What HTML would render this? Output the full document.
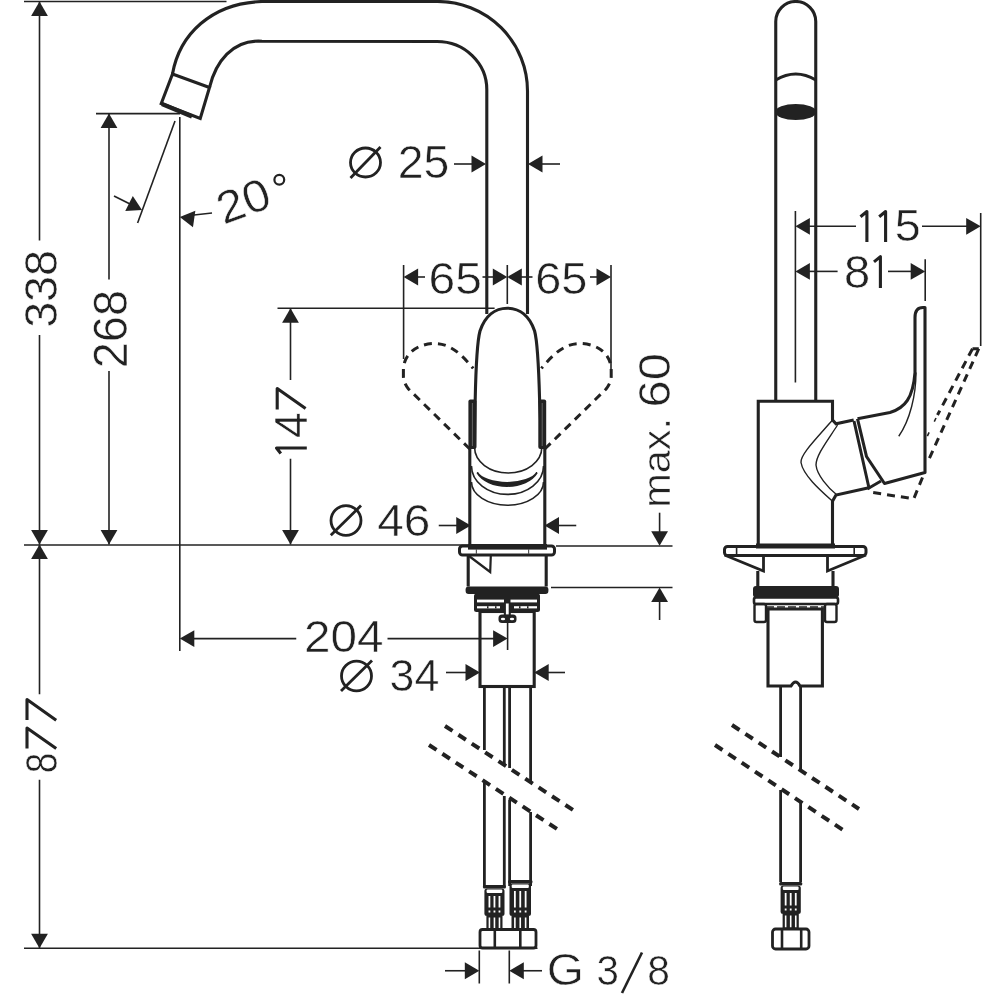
<!DOCTYPE html>
<html><head><meta charset="utf-8"><style>
html,body{margin:0;padding:0;background:#fff;width:1000px;height:1000px;overflow:hidden}
svg{display:block;will-change:transform}
text{font-family:"Liberation Sans",sans-serif}
</style></head><body>
<svg width="1000" height="1000" viewBox="0 0 1000 1000">
<line x1="24" y1="1.5" x2="226.5" y2="1.5" stroke="#222" stroke-width="1.6" />
<line x1="39.5" y1="1.5" x2="39.5" y2="240.5" stroke="#222" stroke-width="1.6" />
<line x1="39.5" y1="335" x2="39.5" y2="544.5" stroke="#222" stroke-width="1.6" />
<polygon points="39.50,1.50 47.90,16.00 31.10,16.00" fill="#222"/>
<polygon points="39.50,544.50 31.10,530.00 47.90,530.00" fill="#222"/>
<text transform="translate(57.70,326.00) rotate(-90) scale(0.9977,1) translate(-1.86,-0.46)" font-size="46.83" fill="#222" stroke="#fff" stroke-width="0.55">338</text>
<line x1="24" y1="545" x2="470" y2="545" stroke="#222" stroke-width="1.6" />
<line x1="556" y1="546" x2="672.5" y2="546" stroke="#222" stroke-width="1.6" />
<line x1="39.5" y1="544.5" x2="39.5" y2="694.25" stroke="#222" stroke-width="1.6" />
<line x1="39.5" y1="779.75" x2="39.5" y2="948" stroke="#222" stroke-width="1.6" />
<polygon points="39.50,544.50 47.90,559.00 31.10,559.00" fill="#222"/>
<polygon points="39.50,948.25 31.10,933.75 47.90,933.75" fill="#222"/>
<text transform="translate(57.00,771.50) rotate(-90) scale(0.8273,1) translate(-2.00,-0.44)" font-size="44.72" fill="#222" stroke="#fff" stroke-width="0.55">8</text>
<path d="M 27,720 L 27,699.6 L 56.2,720.3" stroke="#222" stroke-width="3.1" fill="none" stroke-linejoin="round"/>
<path d="M 27,748.5 L 27,728.1 L 56.2,748.6" stroke="#222" stroke-width="3.1" fill="none" stroke-linejoin="round"/>
<line x1="24" y1="948.25" x2="537.5" y2="948.25" stroke="#222" stroke-width="1.6" />
<line x1="96" y1="113.6" x2="180" y2="113.6" stroke="#222" stroke-width="1.6" />
<line x1="109" y1="113.6" x2="109" y2="279.5" stroke="#222" stroke-width="1.6" />
<line x1="109" y1="371" x2="109" y2="544.5" stroke="#222" stroke-width="1.6" />
<polygon points="109.00,113.60 117.40,128.10 100.60,128.10" fill="#222"/>
<polygon points="109.00,544.50 100.60,530.00 117.40,530.00" fill="#222"/>
<text transform="translate(127.50,366.00) rotate(-90) scale(0.9891,1) translate(-2.36,-0.47)" font-size="47.53" fill="#222" stroke="#fff" stroke-width="0.55">268</text>
<line x1="179.8" y1="117" x2="179.8" y2="651" stroke="#222" stroke-width="1.6" />
<line x1="175" y1="121" x2="137.6" y2="223" stroke="#222" stroke-width="1.6" />
<line x1="114" y1="196" x2="130" y2="204" stroke="#222" stroke-width="1.6" />
<polygon points="142.00,210.00 125.27,211.03 132.79,196.00" fill="#222"/>
<line x1="194" y1="215" x2="212" y2="213" stroke="#222" stroke-width="1.6" />
<polygon points="179.80,217.00 195.34,210.74 192.97,227.37" fill="#222"/>
<text transform="translate(226,224.3) rotate(-20) scale(1.061,1) translate(-2.25,-0.45)" font-size="45.42" fill="#222" stroke="#fff" stroke-width="0.55">20</text>
<circle cx="279.3" cy="179.8" r="4.9" stroke="#222" stroke-width="2.2" fill="none"/>
<ellipse cx="365.5" cy="162.5" rx="15" ry="14.5" stroke="#222" stroke-width="2.8" fill="none"/>
<line x1="350.5" y1="178" x2="380.5" y2="147" stroke="#222" stroke-width="2.8" />
<text transform="translate(400.00,178.75) scale(1.0066,1) translate(-2.29,-0.46)" font-size="46.12" fill="#222" stroke="#fff" stroke-width="0.55">25</text>
<line x1="454" y1="164" x2="474" y2="164" stroke="#222" stroke-width="1.6" />
<polygon points="486.00,164.00 471.50,172.40 471.50,155.60" fill="#222"/>
<line x1="540" y1="164" x2="560" y2="164" stroke="#222" stroke-width="1.6" />
<polygon points="528.00,164.00 542.50,155.60 542.50,172.40" fill="#222"/>
<line x1="403.6" y1="265" x2="403.6" y2="359" stroke="#222" stroke-width="1.6" />
<polygon points="403.60,277.00 418.10,268.60 418.10,285.40" fill="#222"/>
<line x1="418" y1="277" x2="425" y2="277" stroke="#222" stroke-width="1.6" />
<text transform="translate(431.00,294.50) scale(1.0979,1) translate(-2.17,-0.43)" font-size="43.66" fill="#222" stroke="#fff" stroke-width="0.55">65</text>
<line x1="482.5" y1="277" x2="495" y2="277" stroke="#222" stroke-width="1.6" />
<polygon points="507.30,277.00 492.80,285.40 492.80,268.60" fill="#222"/>
<line x1="507.3" y1="265" x2="507.3" y2="304" stroke="#222" stroke-width="1.6" />
<polygon points="507.30,277.00 521.80,268.60 521.80,285.40" fill="#222"/>
<line x1="520" y1="277" x2="532.5" y2="277" stroke="#222" stroke-width="1.6" />
<text transform="translate(537.50,294.50) scale(1.0752,1) translate(-2.17,-0.43)" font-size="43.66" fill="#222" stroke="#fff" stroke-width="0.55">65</text>
<line x1="590" y1="277" x2="598" y2="277" stroke="#222" stroke-width="1.6" />
<polygon points="611.00,277.00 596.50,285.40 596.50,268.60" fill="#222"/>
<line x1="611" y1="265" x2="611" y2="376" stroke="#222" stroke-width="1.6" />
<line x1="277.5" y1="308.2" x2="494.6" y2="308.2" stroke="#222" stroke-width="1.6" />
<line x1="290.5" y1="308.2" x2="290.5" y2="380" stroke="#222" stroke-width="1.6" />
<line x1="290.5" y1="458.75" x2="290.5" y2="544.5" stroke="#222" stroke-width="1.6" />
<polygon points="290.50,308.20 298.90,322.70 282.10,322.70" fill="#222"/>
<polygon points="290.50,544.50 282.10,530.00 298.90,530.00" fill="#222"/>
<text transform="translate(306.80,437.00) rotate(-90) scale(1.0105,1) translate(-0.90,-0.00)" font-size="45.42" fill="#222" stroke="#fff" stroke-width="0.55">4</text>
<path d="M 306.8,448 L 276.5,448 L 280.8,453.5" stroke="#222" stroke-width="3.1" fill="none" stroke-linejoin="round"/>
<path d="M 277.2,409.5 L 277.2,388.6 L 305.6,408.6" stroke="#222" stroke-width="3.1" fill="none" stroke-linejoin="round"/>
<ellipse cx="346" cy="520.5" rx="15" ry="14.8" stroke="#222" stroke-width="2.8" fill="none"/>
<line x1="330.8" y1="535.3" x2="361" y2="505.6" stroke="#222" stroke-width="2.8" />
<text transform="translate(378.20,536.40) scale(1.0589,1) translate(-0.90,-0.45)" font-size="45.14" fill="#222" stroke="#fff" stroke-width="0.55">46</text>
<line x1="438.75" y1="525.5" x2="457" y2="525.5" stroke="#222" stroke-width="1.6" />
<polygon points="470.75,525.50 456.25,533.90 456.25,517.10" fill="#222"/>
<line x1="558" y1="525.5" x2="576.25" y2="525.5" stroke="#222" stroke-width="1.6" />
<polygon points="544.50,525.50 559.00,517.10 559.00,533.90" fill="#222"/>
<line x1="659.6" y1="512.7" x2="659.6" y2="532" stroke="#222" stroke-width="1.6" />
<polygon points="659.60,545.70 651.20,531.20 668.00,531.20" fill="#222"/>
<line x1="551" y1="587.5" x2="672.5" y2="587.5" stroke="#222" stroke-width="1.6" />
<line x1="659.6" y1="600" x2="659.6" y2="620" stroke="#222" stroke-width="1.6" />
<polygon points="659.60,587.50 668.00,602.00 651.20,602.00" fill="#222"/>
<text transform="translate(670.60,405.00) rotate(-90) scale(1.0787,1) translate(-2.24,-0.45)" font-size="45.21" fill="#222" stroke="#fff" stroke-width="0.55">60</text>
<text transform="translate(670.60,505.00) rotate(-90) scale(1.0699,1) translate(-2.49,-0.38)" font-size="38.71" fill="#222" stroke="#fff" stroke-width="0.55">max.</text>
<line x1="193" y1="638.6" x2="296.25" y2="638.6" stroke="#222" stroke-width="1.6" />
<polygon points="179.80,638.60 194.30,630.20 194.30,647.00" fill="#222"/>
<text transform="translate(306.25,652.00) scale(1.0926,1) translate(-2.17,-0.43)" font-size="43.66" fill="#222" stroke="#fff" stroke-width="0.55">204</text>
<line x1="387.5" y1="638.6" x2="494" y2="638.6" stroke="#222" stroke-width="1.6" />
<polygon points="507.60,638.60 493.10,647.00 493.10,630.20" fill="#222"/>
<ellipse cx="356.5" cy="676" rx="15" ry="14.8" stroke="#222" stroke-width="2.8" fill="none"/>
<line x1="341" y1="691" x2="372" y2="660.5" stroke="#222" stroke-width="2.8" />
<text transform="translate(391.25,691.25) scale(1.0104,1) translate(-1.76,-0.44)" font-size="44.36" fill="#222" stroke="#fff" stroke-width="0.55">34</text>
<line x1="446" y1="672.5" x2="467" y2="672.5" stroke="#222" stroke-width="1.6" />
<polygon points="480.00,672.50 465.50,680.90 465.50,664.10" fill="#222"/>
<line x1="548" y1="672.5" x2="565" y2="672.5" stroke="#222" stroke-width="1.6" />
<polygon points="534.20,672.50 548.70,664.10 548.70,680.90" fill="#222"/>
<line x1="479.3" y1="950.5" x2="479.3" y2="983.5" stroke="#222" stroke-width="1.6" />
<line x1="509.3" y1="950.5" x2="509.3" y2="983.5" stroke="#222" stroke-width="1.6" />
<line x1="445" y1="970.75" x2="466" y2="970.75" stroke="#222" stroke-width="1.6" />
<polygon points="479.30,970.75 464.80,979.15 464.80,962.35" fill="#222"/>
<line x1="523" y1="970.75" x2="542" y2="970.75" stroke="#222" stroke-width="1.6" />
<polygon points="509.30,970.75 523.80,962.35 523.80,979.15" fill="#222"/>
<text transform="translate(549.00,985.00) scale(1.0981,1) translate(-2.15,-0.43)" font-size="43.45" fill="#222" stroke="#fff" stroke-width="0.55">G</text>
<text transform="translate(598.00,985.00) scale(0.9281,1) translate(-1.72,-0.43)" font-size="43.45" fill="#222" stroke="#fff" stroke-width="0.55">3</text>
<line x1="622" y1="993" x2="642" y2="952.5" stroke="#222" stroke-width="2.6" />
<text transform="translate(649.00,985.00) scale(0.9380,1) translate(-1.94,-0.43)" font-size="43.45" fill="#222" stroke="#fff" stroke-width="0.55">8</text>
<line x1="795.4" y1="211" x2="795.4" y2="382.5" stroke="#222" stroke-width="1.6" />
<polygon points="795.40,226.30 809.90,217.90 809.90,234.70" fill="#222"/>
<line x1="809" y1="226.3" x2="856" y2="226.3" stroke="#222" stroke-width="1.6" />
<text transform="translate(896.60,241.70) scale(1.0526,1) translate(-1.76,-0.44)" font-size="44.35" fill="#222" stroke="#fff" stroke-width="0.55">5</text>
<path d="M 866.9,242 L 866.9,211.5 L 860.5,216.8" stroke="#222" stroke-width="3.1" fill="none" stroke-linejoin="round"/>
<path d="M 885.6,242 L 885.6,211.5 L 879.2,216.8" stroke="#222" stroke-width="3.1" fill="none" stroke-linejoin="round"/>
<line x1="922" y1="226.3" x2="967" y2="226.3" stroke="#222" stroke-width="1.6" />
<polygon points="980.70,226.30 966.20,234.70 966.20,217.90" fill="#222"/>
<line x1="980.7" y1="213" x2="980.7" y2="346" stroke="#222" stroke-width="1.6" />
<polygon points="795.40,271.40 809.90,263.00 809.90,279.80" fill="#222"/>
<line x1="809" y1="271.4" x2="837.6" y2="271.4" stroke="#222" stroke-width="1.6" />
<text transform="translate(846.00,288.00) scale(1.0386,1) translate(-2.03,-0.45)" font-size="45.42" fill="#222" stroke="#fff" stroke-width="0.55">8</text>
<path d="M 880.4,288 L 880.4,256.6 L 874,261.9" stroke="#222" stroke-width="3.1" fill="none" stroke-linejoin="round"/>
<line x1="888" y1="271.4" x2="912" y2="271.4" stroke="#222" stroke-width="1.6" />
<polygon points="925.20,271.40 910.70,279.80 910.70,263.00" fill="#222"/>
<line x1="925.2" y1="259.3" x2="925.2" y2="301" stroke="#222" stroke-width="1.6" />
<path d="M 172.5,74 C 179.5,34.5 211.3,3.1 262,1.5 L 437.5,1.5 A 90 89.5 0 0 1 527.5,91 L 527.5,314" stroke="#222" stroke-width="3.1" fill="none" />
<path d="M 209.5,87.5 C 215.6,62.3 232.2,39.2 262,41.2 L 437,41.5 A 49.8 48 0 0 1 486.8,89.5 L 486.8,314" stroke="#222" stroke-width="3.1" fill="none" />
<path d="M 172.5,74 L 161.25,103.5 L 200.25,118.5 L 209.5,87.5 Z" stroke="#222" stroke-width="3.1" fill="none" />
<path d="M 162,104 L 192,116.5" stroke="#222" stroke-width="4.5" fill="none" />
<path d="M 474.6,448 L 475.2,400 C 476,362 477,342 480,331 C 485,316 495,308.2 507.3,308.2 C 519.6,308.2 529.6,316 534.6,331 C 537.6,342 538.6,362 539.6,400 L 541.8,448" stroke="#222" stroke-width="3.1" fill="none" />
<rect x="468.4" y="399.5" width="8.0" height="49.5" rx="2" fill="#222"/>
<line x1="472.4" y1="403" x2="472.4" y2="446" stroke="#777" stroke-width="0.8" />
<rect x="538.3" y="399.5" width="7.900000000000091" height="49.5" rx="2" fill="#222"/>
<line x1="542.2" y1="403" x2="542.2" y2="446" stroke="#777" stroke-width="0.8" />
<line x1="469.8" y1="448" x2="469.8" y2="545" stroke="#222" stroke-width="3.1" />
<line x1="544.8" y1="448" x2="544.8" y2="545" stroke="#222" stroke-width="3.1" />
<path d="M 474.6,447.6 A 33.6 25.4 0 0 0 541.8,447.6" stroke="#222" stroke-width="1.6" fill="none" />
<path d="M 477.2,472.5 A 32 21 0 0 0 537,472.5 A 31 14 0 0 1 477.2,472.5 Z" stroke="#222" stroke-width="1.8" fill="#222" />
<path d="M 471.5,466 A 36 28.4 0 0 0 543.5,466" stroke="#222" stroke-width="1.6" fill="none" />
<path d="M 471.5,482 A 36 23.2 0 0 0 543.5,482" stroke="#222" stroke-width="1.6" fill="none" />
<path d="M 403.4,377 L 403.4,370 C 403.4,354 417,343.5 435,343.5 C 451,343.5 463,356 473.2,368.4" stroke="#222" stroke-width="3" fill="none" stroke-dasharray="8 6" stroke-linecap="butt"/>
<path d="M 469.8,449 L 408.5,389 C 405.5,385.5 403.6,381 403.4,377" stroke="#222" stroke-width="3" fill="none" stroke-dasharray="8 6" stroke-linecap="butt"/>
<path d="M 611.2,377 L 611.2,370 C 611.2,354 597.6,343.5 579.6,343.5 C 563.6,343.5 551.6,356 541.4,368.4" stroke="#222" stroke-width="3" fill="none" stroke-dasharray="8 6" stroke-linecap="butt"/>
<path d="M 544.8,449 L 606.1,389 C 609.1,385.5 611,381 611.2,377" stroke="#222" stroke-width="3" fill="none" stroke-dasharray="8 6" stroke-linecap="butt"/>
<rect x="459.5" y="546" width="95.0" height="9" rx="3" stroke="#222" stroke-width="3" fill="none" />
<rect x="468" y="544" width="79" height="5.600000000000023" rx="0" fill="#222"/>
<line x1="476.4" y1="549" x2="476.4" y2="554" stroke="#555" stroke-width="1.2" />
<line x1="528.6" y1="549" x2="528.6" y2="554" stroke="#555" stroke-width="1.2" />
<path d="M 468.2,556 L 468.2,586.5 M 546.2,556 L 546.2,586.5" stroke="#222" stroke-width="3.1" fill="none" />
<path d="M 469,556 L 490.2,572 L 490.8,556" stroke="#222" stroke-width="2.2" fill="none" />
<rect x="465.6" y="586.4" width="82.79999999999995" height="7.600000000000023" rx="3" fill="#222"/>
<rect x="474" y="593.6" width="66" height="18.399999999999977" rx="2.5" fill="#222"/>
<rect x="477" y="599.6" width="27" height="2.7999999999999545" rx="0" fill="#fff"/>
<rect x="510.5" y="599.6" width="26.5" height="2.7999999999999545" rx="0" fill="#fff"/>
<rect x="477" y="606.2" width="23" height="2.199999999999932" rx="0" fill="#fff"/>
<rect x="514" y="606.2" width="23" height="2.199999999999932" rx="0" fill="#fff"/>
<rect x="487" y="606.2" width="1.5" height="2.199999999999932" rx="0" fill="#222"/>
<rect x="495" y="606.2" width="1.5" height="2.199999999999932" rx="0" fill="#222"/>
<rect x="519" y="606.2" width="1.5" height="2.199999999999932" rx="0" fill="#222"/>
<rect x="527" y="606.2" width="1.5" height="2.199999999999932" rx="0" fill="#222"/>
<rect x="480" y="611.5" width="54.200000000000045" height="75.0" rx="0" stroke="#222" stroke-width="3.1" fill="none" />
<rect x="503.8" y="610" width="7.0" height="5" rx="0" fill="#222"/>
<rect x="505.9" y="603.5" width="2.8000000000000114" height="11.299999999999955" rx="0" fill="#fff"/>
<rect x="498.5" y="614.5" width="18.0" height="8.5" rx="3.5" fill="#222"/>
<ellipse cx="503" cy="619" rx="2.2" ry="1.3" fill="#fff"/><ellipse cx="512" cy="619" rx="2.2" ry="1.3" fill="#fff"/>
<line x1="507.6" y1="622" x2="507.6" y2="650" stroke="#222" stroke-width="1.6" />
<line x1="484.4" y1="686" x2="484.4" y2="750" stroke="#222" stroke-width="2.8" />
<line x1="484.4" y1="783" x2="484.4" y2="886" stroke="#222" stroke-width="2.8" />
<line x1="504.3" y1="686" x2="504.3" y2="766" stroke="#222" stroke-width="2.8" />
<line x1="504.3" y1="796" x2="504.3" y2="886" stroke="#222" stroke-width="2.8" />
<line x1="509.6" y1="686" x2="509.6" y2="768" stroke="#222" stroke-width="2.8" />
<line x1="509.6" y1="800" x2="509.6" y2="886" stroke="#222" stroke-width="2.8" />
<line x1="530.6" y1="686" x2="530.6" y2="782" stroke="#222" stroke-width="2.8" />
<line x1="530.6" y1="812" x2="530.6" y2="886" stroke="#222" stroke-width="2.8" />
<line x1="445" y1="726" x2="573" y2="810" stroke="#222" stroke-width="4" stroke-dasharray="9 7"/>
<line x1="429" y1="745" x2="557" y2="829" stroke="#222" stroke-width="4" stroke-dasharray="9 7"/>
<rect x="482.9" y="885.0" width="23.100000000000023" height="3.5" rx="1.5" fill="#222"/>
<rect x="484.4" y="888.5" width="20.100000000000023" height="27.5" rx="2.5" fill="#222"/>
<rect x="486.59999999999997" y="889.5" width="15.700000000000045" height="3.5" rx="1" fill="#fff"/>
<rect x="488.525" y="896.0" width="1.7999999999999545" height="11.5" rx="0" fill="#fff"/>
<rect x="488.525" y="910.5" width="1.7999999999999545" height="2.0" rx="0" fill="#fff"/>
<rect x="493.55" y="896.0" width="1.7999999999999545" height="11.5" rx="0" fill="#fff"/>
<rect x="493.55" y="910.5" width="1.7999999999999545" height="2.0" rx="0" fill="#fff"/>
<rect x="498.57500000000005" y="896.0" width="1.7999999999999545" height="11.5" rx="0" fill="#fff"/>
<rect x="498.57500000000005" y="910.5" width="1.7999999999999545" height="2.0" rx="0" fill="#fff"/>
<rect x="486.4" y="916" width="16.100000000000023" height="13" rx="0" fill="#222"/>
<rect x="488.62499999999994" y="917.5" width="1.6000000000000227" height="10.5" rx="0" fill="#fff"/>
<rect x="493.65" y="917.5" width="1.6000000000000227" height="10.5" rx="0" fill="#fff"/>
<rect x="498.675" y="917.5" width="1.6000000000000227" height="10.5" rx="0" fill="#fff"/>
<rect x="508.0" y="880.0" width="24.5" height="3.5" rx="1.5" fill="#222"/>
<rect x="509.5" y="883.5" width="21.5" height="32.5" rx="2.5" fill="#222"/>
<rect x="511.7" y="884.5" width="17.099999999999966" height="3.5" rx="1" fill="#fff"/>
<rect x="513.975" y="891.0" width="1.7999999999999545" height="16.5" rx="0" fill="#fff"/>
<rect x="513.975" y="910.5" width="1.7999999999999545" height="2.0" rx="0" fill="#fff"/>
<rect x="519.35" y="891.0" width="1.7999999999999545" height="16.5" rx="0" fill="#fff"/>
<rect x="519.35" y="910.5" width="1.7999999999999545" height="2.0" rx="0" fill="#fff"/>
<rect x="524.725" y="891.0" width="1.7999999999999545" height="16.5" rx="0" fill="#fff"/>
<rect x="524.725" y="910.5" width="1.7999999999999545" height="2.0" rx="0" fill="#fff"/>
<rect x="511.5" y="916" width="17.5" height="13" rx="0" fill="#222"/>
<rect x="514.075" y="917.5" width="1.599999999999909" height="10.5" rx="0" fill="#fff"/>
<rect x="519.45" y="917.5" width="1.599999999999909" height="10.5" rx="0" fill="#fff"/>
<rect x="524.825" y="917.5" width="1.599999999999909" height="10.5" rx="0" fill="#fff"/>
<rect x="480" y="929.5" width="56" height="18.5" rx="2.5" stroke="#222" stroke-width="2.8" fill="none" />
<line x1="494.8" y1="929.5" x2="494.8" y2="948" stroke="#222" stroke-width="2.6" />
<line x1="520.3" y1="929.5" x2="520.3" y2="948" stroke="#222" stroke-width="2.6" />
<path d="M 775.75,400 L 775.75,21.5 A 20 20 0 0 1 815.75,21.5 L 815.75,400" stroke="#222" stroke-width="3.1" fill="none" />
<path d="M 775.75,80 Q 795.75,68 815.75,80" stroke="#222" stroke-width="3.1" fill="none" />
<ellipse cx="795.75" cy="112" rx="20.5" ry="8" fill="#222"/>
<path d="M 758.25,545 L 758.25,401.25 L 832.5,401.25 L 832.5,420 L 836,423.8 L 853.7,420" stroke="#222" stroke-width="3.1" fill="none" />
<path d="M 832.5,545 L 832.5,501.2 L 836,495 L 870,487.5" stroke="#222" stroke-width="3.1" fill="none" />
<path d="M 857.5,418.75 L 890,412.5 C 905,408 913,398 915,372.5 L 915,317.5 C 915,311 918,307.5 923,307.5 L 925,307.5 L 925,472.5 L 884.5,483.5 L 866.5,456.5 L 857.5,418.75" stroke="#222" stroke-width="3.1" fill="none" stroke-linejoin="round"/>
<path d="M 898.75,436.25 C 910,420 916,395 916,372.5" stroke="#222" stroke-width="1.4" fill="none" />
<path d="M 854,421 L 869,488 L 881,481" stroke="#222" stroke-width="3" fill="none" />
<path d="M 832.5,420 C 815,440 800,455 801,462.5 C 803,475 820,490 832.5,501.2" stroke="#222" stroke-width="1.4" fill="none" />
<path d="M 837.5,425 C 828,440 816,455 816,465 C 817,475 828,488 837,495" stroke="#222" stroke-width="1.4" fill="none" />
<path d="M 978.75,348.75 L 927.5,462.5" stroke="#222" stroke-width="3" fill="none" stroke-dasharray="8 6" stroke-linecap="butt"/>
<path d="M 972.5,348.75 L 937.5,415" stroke="#222" stroke-width="3" fill="none" stroke-dasharray="8 6" stroke-linecap="butt"/>
<path d="M 936,418 L 925,441" stroke="#222" stroke-width="1.6" fill="none" stroke-dasharray="4 12"/>
<path d="M 972.5,348.75 L 978.75,348.75" stroke="#222" stroke-width="3" fill="none" />
<path d="M 922.5,477.5 L 913.75,498.75 L 872.5,492.5" stroke="#222" stroke-width="3" fill="none" stroke-dasharray="8 6" stroke-linecap="butt"/>
<rect x="724.5" y="546.5" width="141.5" height="9.0" rx="3" stroke="#222" stroke-width="3" fill="none" />
<rect x="756" y="543.5" width="79" height="5.0" rx="0" fill="#222"/>
<line x1="736.6" y1="548" x2="736.6" y2="554" stroke="#222" stroke-width="1.6" />
<line x1="854.2" y1="548" x2="854.2" y2="554" stroke="#222" stroke-width="1.6" />
<path d="M 724.5,555 L 763.5,571 L 763.5,555 M 866,555 L 827.5,571 L 827.5,555" stroke="#222" stroke-width="2.8" fill="none" />
<line x1="757.8" y1="571" x2="757.8" y2="586" stroke="#222" stroke-width="3.1" />
<line x1="833" y1="571" x2="833" y2="586" stroke="#222" stroke-width="3.1" />
<rect x="753" y="586" width="86" height="11.5" rx="3" fill="#222"/>
<rect x="754" y="597.5" width="84" height="6.5" rx="2" stroke="#222" stroke-width="2.6" fill="none" />
<rect x="754.5" y="604" width="11.5" height="18" rx="2" stroke="#222" stroke-width="2.4" fill="none" />
<rect x="825" y="604" width="11.5" height="18" rx="2" stroke="#222" stroke-width="2.4" fill="none" />
<line x1="766" y1="607" x2="825" y2="607" stroke="#222" stroke-width="1.4" stroke-dasharray="8 3"/>
<path d="M 768,609 L 768,686 L 791,686 Q 795.6,678 800,686 L 822.4,686 L 822.4,609 Z" stroke="#222" stroke-width="3.1" fill="none" />
<line x1="780.6" y1="686" x2="780.6" y2="757" stroke="#222" stroke-width="2.8" />
<line x1="800.6" y1="686" x2="800.6" y2="771" stroke="#222" stroke-width="2.8" />
<line x1="780.6" y1="790" x2="780.6" y2="882" stroke="#222" stroke-width="2.8" />
<line x1="800.6" y1="801" x2="800.6" y2="882" stroke="#222" stroke-width="2.8" />
<line x1="732" y1="725" x2="859" y2="809" stroke="#222" stroke-width="4" stroke-dasharray="9 7"/>
<line x1="715" y1="745" x2="843" y2="830" stroke="#222" stroke-width="4" stroke-dasharray="9 7"/>
<rect x="779.1" y="882.0" width="23.199999999999932" height="3.5" rx="1.5" fill="#222"/>
<rect x="780.6" y="885.5" width="20.199999999999932" height="28.5" rx="2.5" fill="#222"/>
<rect x="782.8000000000001" y="886.5" width="15.79999999999984" height="3.5" rx="1" fill="#fff"/>
<rect x="784.75" y="893.0" width="1.7999999999999545" height="12.5" rx="0" fill="#fff"/>
<rect x="784.75" y="908.5" width="1.7999999999999545" height="2.0" rx="0" fill="#fff"/>
<rect x="789.8000000000001" y="893.0" width="1.7999999999999545" height="12.5" rx="0" fill="#fff"/>
<rect x="789.8000000000001" y="908.5" width="1.7999999999999545" height="2.0" rx="0" fill="#fff"/>
<rect x="794.85" y="893.0" width="1.7999999999999545" height="12.5" rx="0" fill="#fff"/>
<rect x="794.85" y="908.5" width="1.7999999999999545" height="2.0" rx="0" fill="#fff"/>
<rect x="782.6" y="914" width="16.199999999999932" height="14.5" rx="0" fill="#222"/>
<rect x="784.85" y="915.5" width="1.599999999999909" height="12.0" rx="0" fill="#fff"/>
<rect x="789.9000000000001" y="915.5" width="1.599999999999909" height="12.0" rx="0" fill="#fff"/>
<rect x="794.95" y="915.5" width="1.599999999999909" height="12.0" rx="0" fill="#fff"/>
<rect x="772.5" y="929" width="36.5" height="20" rx="3" stroke="#222" stroke-width="2.8" fill="none" />
<line x1="782" y1="929" x2="782" y2="949" stroke="#222" stroke-width="2.6" />
<line x1="801.2" y1="929" x2="801.2" y2="949" stroke="#222" stroke-width="2.6" />
</svg></body></html>
